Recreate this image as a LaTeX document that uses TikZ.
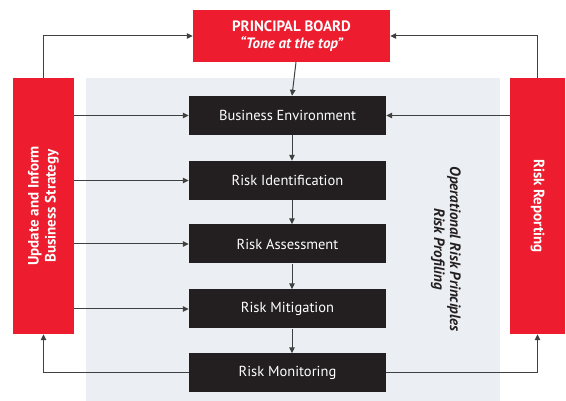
\documentclass[tikz,border=0pt]{standalone}
\usepackage{fontspec}
\setmainfont{PT Sans}
\usetikzlibrary{arrows.meta}
\definecolor{rred}{HTML}{ED1C2E}
\definecolor{bbox}{HTML}{231F20}
\definecolor{bgray}{HTML}{EBEEF2}
\definecolor{lgray}{HTML}{404040}
\tikzset{
  stepbox/.style={fill=bbox,text=white,minimum width=197pt,minimum height=39pt,inner sep=0pt,font=\fontsize{14.5}{17}\selectfont},
  redbox/.style={fill=rred,text=white,inner sep=0pt,font=\bfseries\fontsize{15}{17}\selectfont,align=center},
  conn/.style={draw=lgray,line width=1pt,-{Triangle[length=6pt,width=5.5pt]}},
  plain/.style={draw=lgray,line width=1pt}
}
\begin{document}
\begin{tikzpicture}[x=1pt,y=1pt]
\useasboundingbox (0,0) rectangle (566,401);
\fill[bgray] (86,0) rectangle (500,323);
\node[redbox,minimum width=197pt,minimum height=52pt] (pb) at (291.5,365) {PRINCIPAL BOARD\\\itshape ``Tone at the top''};
\node[redbox,minimum width=61pt,minimum height=256pt] (lb) at (43.5,195) {};
\node[redbox,rotate=90] at (lb.center) {Update and Inform\\Business Strategy};
\node[redbox,minimum width=55pt,minimum height=256pt] (rb) at (537.5,195) {};
\node[redbox,rotate=-90] at (rb.center) {Risk Reporting};
\node[stepbox] (s1) at (287.5,285.5) {Business Environment};
\node[stepbox] (s2) at (287.5,220.5) {Risk Identification};
\node[stepbox] (s3) at (287.5,157) {Risk Assessment};
\node[stepbox] (s4) at (287.5,92) {Risk Mitigation};
\node[stepbox] (s5) at (287.5,28) {Risk Monitoring};
\node[rotate=-90,align=center,text=bbox,font=\bfseries\itshape\fontsize{15}{16}\selectfont] (op) at (446,152) {Operational Risk Principles\\Risk Profiling};
% vertical arrows
\draw[conn] ([xshift=4.5pt]pb.south) -- ([xshift=4.5pt]s1.north);
\draw[conn] ([xshift=4.5pt]s1.south) -- ([xshift=4.5pt]s2.north);
\draw[conn] ([xshift=4.5pt]s2.south) -- ([xshift=4.5pt]s3.north);
\draw[conn] ([xshift=4.5pt]s3.south) -- ([xshift=4.5pt]s4.north);
\draw[conn] ([xshift=4.5pt]s4.south) -- ([xshift=4.5pt]s5.north);
% left arrows
\draw[conn] (lb.east |- s1.west) -- (s1.west);
\draw[conn] (lb.east |- s2.west) -- (s2.west);
\draw[conn] (lb.east |- s3.west) -- (s3.west);
\draw[conn] (lb.east |- s4.west) -- (s4.west);
\draw[conn] (rb.west |- s1.east) -- (s1.east);
% monitoring loops
\draw[conn] (s5.west) -| (lb.south);
\draw[conn] (s5.east) -| (rb.south);
% top loops
\draw[conn] (lb.north) |- (pb.west);
\draw[conn] (rb.north) |- (pb.east);
\end{tikzpicture}
\end{document}
